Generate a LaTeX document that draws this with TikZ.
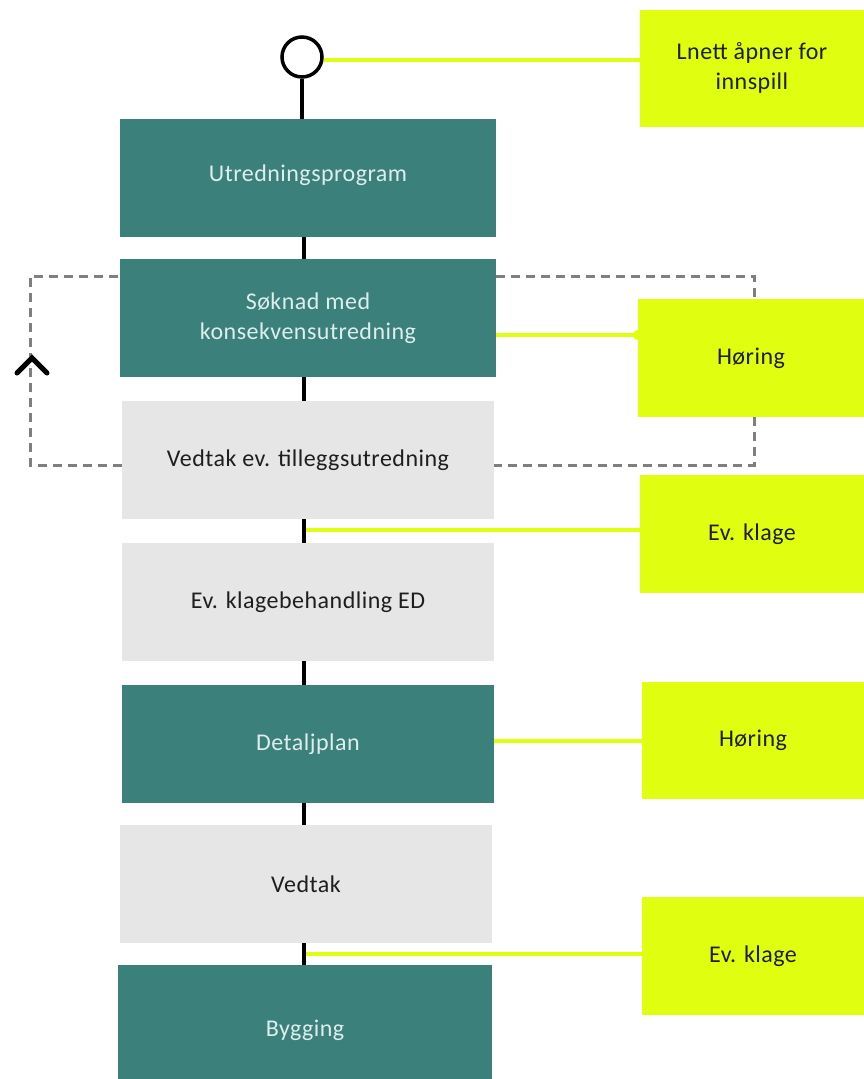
\documentclass[tikz,border=0pt]{standalone}
\usepackage{fontspec}
\setmainfont[LetterSpace=2.0]{Carlito}
\definecolor{teal0}{HTML}{3B807B}
\definecolor{grey0}{HTML}{E6E6E6}
\definecolor{lime0}{HTML}{E0FF10}
\definecolor{tealtext}{HTML}{DDEEEC}
\definecolor{darktext}{HTML}{1E1E1E}
\definecolor{dashgrey}{HTML}{7F7F7F}
\begin{document}
\begin{tikzpicture}[x=1pt,y=-1pt,
  box/.style={rectangle, inner sep=0pt, align=center, font=\fontsize{24}{30}\selectfont},
  tealbox/.style={box, fill=teal0, text=tealtext, minimum width=376pt, minimum height=118pt},
  greybox/.style={box, fill=grey0, text=darktext, minimum width=372pt, minimum height=118pt},
  limebox/.style={box, fill=lime0, text=darktext, minimum width=224pt, minimum height=117pt},
  spine/.style={draw=black, line width=4pt},
  limeline/.style={draw=lime0, line width=3.5pt},
  loopline/.style={draw=dashgrey, line width=3pt, dash pattern=on 9pt off 6pt}]
\useasboundingbox (0,0) rectangle (864,1079);
\fill[white] (0,0) rectangle (864,1079);

% main column
\node[tealbox, text depth=10pt] (u) at (308,178) {Utredningsprogram};
\node[tealbox] (s) at (308,318) {Søknad med\\konsekvensutredning};
\node[greybox] (v1) at (308,460) {\raisebox{-3pt}{Vedtak ev. tilleggsutredning}};
\node[greybox] (k) at (308,602) {\raisebox{-2pt}{Ev. klagebehandling ED}};
\node[tealbox, minimum width=372pt] (d) at (308,744) {Detaljplan};
\node[greybox] (v2) at (306,884) {Vedtak};
\node[tealbox, minimum width=374pt, minimum height=130pt] (b) at (305,1030) {\raisebox{3pt}{Bygging}};

% right column
\node[limebox] (l) at (752,68.5) {\raisebox{-3pt}{\begin{tabular}{@{}c@{}}Lnett åpner for\\innspill\end{tabular}}};
\node[limebox, minimum width=226pt, minimum height=118pt] (h1) at (751,358) {\raisebox{-2pt}{Høring}};
\node[limebox, minimum height=118pt] (e1) at (752,534) {\raisebox{2pt}{Ev. klage}};
\node[limebox, minimum width=222pt] (h2) at (753,740.5) {\raisebox{-2pt}{Høring}};
\node[limebox, minimum width=222pt, minimum height=118pt] (e2) at (753,956) {Ev. klage};

% start circle
\node[circle, draw=black, line width=3.5pt, fill=white, minimum size=40pt, inner sep=0pt] (c) at (302,57) {};

% spine connectors
\draw[spine] (c.south) -- (c.south |- u.north);
\coordinate (x0) at (304,0);
\draw[spine] (x0 |- u.south) -- (x0 |- s.north);
\draw[spine] (x0 |- s.south) -- (x0 |- v1.north);
\draw[spine] (x0 |- v1.south) -- (x0 |- k.north);
\draw[spine] (x0 |- k.south) -- (x0 |- d.north);
\draw[spine] (x0 |- d.south) -- (x0 |- v2.north);
\draw[spine] (x0 |- v2.south) -- (x0 |- b.north);

% lime connectors
\draw[limeline] (c.east |- 0,60) -- (l.west |- 0,60);
\coordinate (hs) at (496,335);
\draw[limeline] (hs) -- (h1.west |- hs);
\fill[lime0] (h1.west |- hs) circle (5pt);
\coordinate (j1) at (306,530);
\draw[limeline] (j1) -- (e1.west |- j1);
\draw[limeline] (d.east |- 0,741) -- (h2.west |- 0,741);
\coordinate (j2) at (306,954);
\draw[limeline] (j2) -- (e2.west |- j2);

% dashed loop
\coordinate (lt) at (30,276);
\coordinate (lb) at (30,465);
\coordinate (rt) at (754,276);
\coordinate (rb) at (754,465);
\draw[loopline] (v1.west |- lb) -- (lb) -- (lt) -- (s.west |- lt);
\draw[loopline] (s.east |- rt) -- (rt) -- (rt |- h1.north);
\draw[loopline] (rb |- h1.south) -- (rb) -- (v1.east |- rb);
\coordinate (ah) at (32,358);
\draw[black, line width=5pt, line cap=round, line join=miter] ([shift={(-15,15)}]ah) -- (ah) -- ([shift={(15,15)}]ah);
\end{tikzpicture}
\end{document}
